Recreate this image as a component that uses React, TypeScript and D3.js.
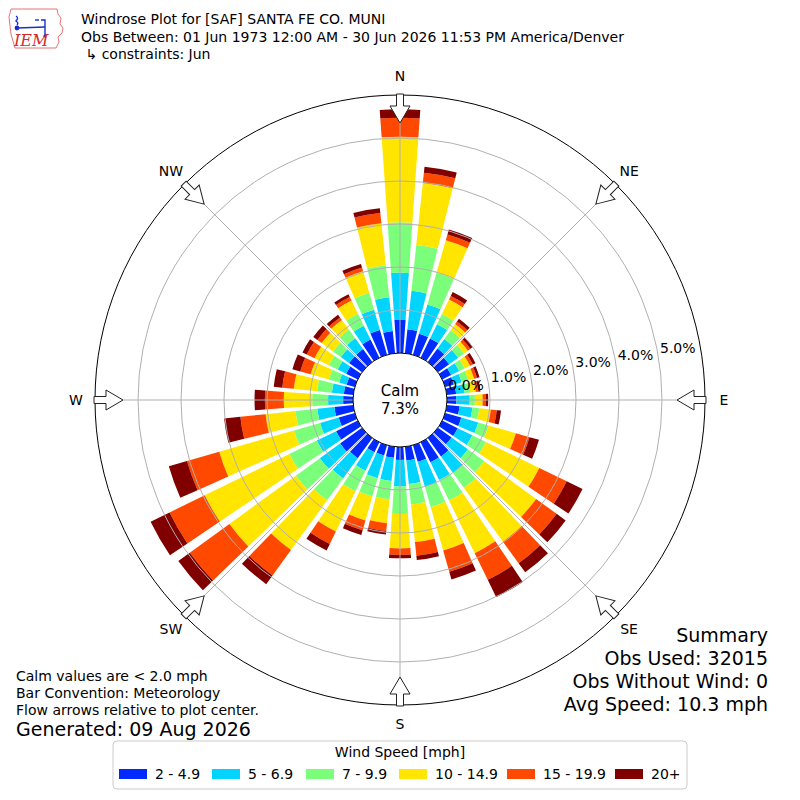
import * as d3 from 'd3'

// wind direction categories (degrees, meteorological: where wind comes from)
const directions = [
  0, 10, 20, 30, 40, 50, 60, 70, 80, 90, 100, 110, 120, 130, 140, 150, 160, 170,
  180, 190, 200, 210, 220, 230, 240, 250, 260, 270, 280, 290, 300, 310, 320, 330, 340, 350,
]

const speedBins = ['2 - 4.9', '5 - 6.9', '7 - 9.9', '10 - 14.9', '15 - 19.9', '20+']
const binColors = ['#002aff', '#00d4ff', '#7bff7b', '#ffe500', '#ff4800', '#800000']

// frequency [%] per direction, one array per speed bin
const pct2to5 = [
  0.77, 0.56, 0.51, 0.5, 0.39, 0.32, 0.23, 0.21, 0.22, 0.22, 0.3, 0.39, 0.4, 0.39, 0.53, 0.52, 0.4, 0.32,
  0.3, 0.26, 0.25, 0.26, 0.58, 0.63, 0.56, 0.39, 0.44, 0.23, 0.22, 0.2, 0.3, 0.37, 0.37, 0.47, 0.6, 0.52,
]
const pct5to7 = [
  1.1, 0.9, 0.71, 0.37, 0.27, 0.26, 0.21, 0.19, 0.2, 0.31, 0.3, 0.41, 0.38, 0.47, 0.47, 0.46, 0.6, 0.55,
  0.62, 0.54, 0.55, 0.48, 0.58, 0.58, 0.5, 0.45, 0.4, 0.35, 0.28, 0.18, 0.22, 0.24, 0.31, 0.36, 0.49, 0.79,
]
const pct7to10 = [
  1.17, 1.07, 0.77, 0.26, 0.25, 0.17, 0.14, 0.16, 0.13, 0.12, 0.16, 0.25, 0.35, 0.47, 0.44, 0.53, 0.5, 0.48,
  0.64, 0.43, 0.44, 0.53, 0.63, 0.69, 0.71, 0.63, 0.51, 0.37, 0.35, 0.25, 0.23, 0.22, 0.25, 0.31, 0.41, 0.75,
]
const pct10to15 = [
  1.99, 1.45, 0.78, 0.38, 0.18, 0.11, 0.14, 0.14, 0.13, 0.18, 0.27, 0.66, 1.38, 1.49, 1.54, 1.36, 1.05, 0.88,
  0.8, 0.56, 0.58, 1.04, 1.43, 1.91, 2.19, 1.81, 0.7, 0.66, 0.54, 0.44, 0.37, 0.33, 0.28, 0.34, 0.52, 0.98,
]
const pct15to20 = [
  0.44, 0.24, 0.14, 0.09, 0.07, 0.07, 0.07, 0.07, 0.06, 0.07, 0.14, 0.33, 0.71, 0.59, 0.62, 0.69, 0.51, 0.32,
  0.15, 0.18, 0.24, 0.32, 0.73, 1.14, 0.91, 0.78, 0.59, 0.44, 0.27, 0.25, 0.2, 0.12, 0.07, 0.09, 0.09, 0.24,
]
const pct20plus = [
  0.2, 0.14, 0.12, 0.1, 0.08, 0.07, 0.07, 0.06, 0.05, 0.06, 0.1, 0.23, 0.41, 0.26, 0.26, 0.45, 0.19, 0.1,
  0.08, 0.08, 0.11, 0.17, 0.25, 0.33, 0.49, 0.44, 0.38, 0.24, 0.2, 0.19, 0.11, 0.12, 0.08, 0.07, 0.09, 0.11,
]

const radialTicks = [0, 1, 2, 3, 4, 5]
const ringTicks = [1, 2, 3, 4, 5]
const compassNames = ['N', 'NE', 'E', 'SE', 'S', 'SW', 'W', 'NW']
const compassAngles = [0, 45, 90, 135, 180, 225, 270, 315]

const titleLines = [
  'Windrose Plot for [SAF] SANTA FE CO. MUNI',
  'Obs Between: 01 Jun 1973 12:00 AM - 30 Jun 2026 11:53 PM America/Denver',
  ' \u21b3 constraints: Jun',
]
const noteLines = ['Calm values are < 2.0 mph', 'Bar Convention: Meteorology', 'Flow arrows relative to plot center.']
const summaryLines = ['Summary', 'Obs Used: 32015', 'Obs Without Wind: 0', 'Avg Speed: 10.3 mph']
const calmPct = 7.3

const width = 800
const height = 800
const cx = 400
const cy = 400
const font = 'DejaVu Sans, Verdana, sans-serif'

// legend layout
const legendSwatchX = [119, 212, 306, 399, 507, 615]

const rScale = d3.scaleLinear().domain([0, 6]).range([47, 305])
const toRad = (deg: number) => (deg * Math.PI) / 180

function polar(deg: number, r: number): [number, number] {
  return [cx + r * Math.sin(toRad(deg)), cy - r * Math.cos(toRad(deg))]
}

function IemLogo() {
  return (
    <g transform="translate(5,6)">
      <path
        d="M6,3 L52,3 L53,8 L56,12 L55,18 L58,22 L57,27 L53,31 L54,36 L51,42 L10,42 L8,35 L6,28 L5,20 L4,11 Z"
        fill="#fff"
        stroke="#e05050"
        strokeWidth={0.8}
      />
      <g stroke="#1a2fc8" strokeWidth={1.4} fill="none">
        <path d="M12,22 L40,21" />
        <path d="M36,14 L40,14 L40,29" />
        <path d="M30,14 L34,14" />
        <path d="M11,10 Q14,12 11,15 Q14,17 12,19" />
      </g>
      <circle cx={12} cy={22} r={2.4} fill="#1a2fc8" />
      <circle cx={40} cy={30} r={1.6} fill="#1a2fc8" />
      <text x={9} y={40} fontFamily="DejaVu Serif, serif" fontStyle="italic" fontSize={16} fill="#d42a2a">
        IEM
      </text>
    </g>
  )
}

export default function App() {
  const rows = directions.map((dir, i) => ({
    dir,
    b0: pct2to5[i],
    b1: pct5to7[i],
    b2: pct7to10[i],
    b3: pct10to15[i],
    b4: pct15to20[i],
    b5: pct20plus[i],
  }))
  const keys = ['b0', 'b1', 'b2', 'b3', 'b4', 'b5']
  const series = d3.stack<any>().keys(keys)(rows)

  const arc = d3.arc<any>()
  const halfWidth = 4 // bar spans 8 of the 10 degrees

  const arrowPath = 'M0,0 L10,-17 L3.5,-17 L3.5,-29 L-3.5,-29 L-3.5,-17 L-10,-17 Z'

  return (
    <div style={{ position: 'absolute', left: 0, top: 0 }}>
      <svg width={width} height={height} viewBox={`0 0 ${width} ${height}`} style={{ display: 'block', background: '#fff' }}>
        <IemLogo />
        {titleLines.map((t, i) => (
          <text key={t} x={81} y={24 + i * 17.5} fontFamily={font} fontSize={14} fill="#000" style={{ whiteSpace: 'pre' }}>
            {t}
          </text>
        ))}

        {/* bars */}
        <g transform={`translate(${cx},${cy})`}>
          {series.map((s, si) => (
            <g key={s.key} fill={binColors[si]}>
              {s.map((d) => {
                const dir = d.data.dir
                const path = arc({
                  innerRadius: rScale(d[0]),
                  outerRadius: rScale(d[1]),
                  startAngle: toRad(dir - halfWidth),
                  endAngle: toRad(dir + halfWidth),
                })
                return <path key={dir} d={path ?? ''} />
              })}
            </g>
          ))}
        </g>

        {/* grid */}
        <g fill="none" stroke="#b0b0b0" strokeWidth={1}>
          {ringTicks.map((t) => (
            <circle key={t} cx={cx} cy={cy} r={rScale(t)} />
          ))}
          {compassAngles.map((a) => {
            const [x1, y1] = polar(a, rScale(0))
            const [x2, y2] = polar(a, rScale(6))
            return <line key={a} x1={x1} y1={y1} x2={x2} y2={y2} />
          })}
        </g>

        <circle cx={cx} cy={cy} r={rScale(0)} fill="#fff" stroke="#000" strokeWidth={1} />
        <circle cx={cx} cy={cy} r={rScale(6)} fill="none" stroke="#000" strokeWidth={1} />

        {/* flow arrows */}
        {compassAngles.map((a) => (
          <path
            key={a}
            d={arrowPath}
            transform={`translate(${cx},${cy}) rotate(${a}) translate(0,${-277})`}
            fill="#fff"
            stroke="#222"
            strokeWidth={1}
          />
        ))}

        {compassNames.map((name, i) => {
          const [x, y] = polar(compassAngles[i], 324)
          return (
            <text key={name} x={x} y={y} dy="0.35em" textAnchor="middle" fontFamily={font} fontSize={14}>
              {name}
            </text>
          )
        })}

        {radialTicks.map((t) => {
          const [x, y] = polar(80, rScale(t))
          return (
            <text key={t} x={x + 2} y={y - 2} fontFamily={font} fontSize={14}>
              {`${t.toFixed(1)}%`}
            </text>
          )
        })}

        <text x={cx} y={cy - 4} textAnchor="middle" fontFamily={font} fontSize={15}>
          Calm
        </text>
        <text x={cx} y={cy + 14} textAnchor="middle" fontFamily={font} fontSize={15}>
          {`${calmPct.toFixed(1)}%`}
        </text>

        {noteLines.map((t, i) => (
          <text key={t} x={16} y={681 + i * 17} fontFamily={font} fontSize={14}>
            {t}
          </text>
        ))}
        <text x={16} y={736} fontFamily={font} fontSize={19}>
          Generated: 09 Aug 2026
        </text>

        {summaryLines.map((t, i) => (
          <text key={t} x={768} y={641.5 + i * 23.3} textAnchor="end" fontFamily={font} fontSize={19}>
            {t}
          </text>
        ))}

        {/* legend */}
        <rect x={113} y={741} width={574} height={48} rx={4} fill="#fff" stroke="#cccccc" strokeWidth={1} />
        <text x={400} y={757} textAnchor="middle" fontFamily={font} fontSize={14}>
          Wind Speed [mph]
        </text>
        {speedBins.map((label, i) => (
          <g key={label}>
            <rect x={legendSwatchX[i]} y={769} width={28} height={10} fill={binColors[i]} />
            <text x={legendSwatchX[i] + 36} y={779} fontFamily={font} fontSize={14}>
              {label}
            </text>
          </g>
        ))}
      </svg>
    </div>
  )
}
